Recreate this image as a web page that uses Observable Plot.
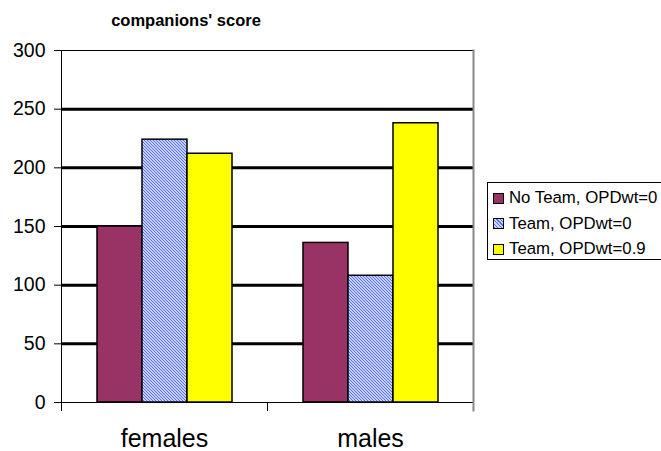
<!DOCTYPE html>
<html>
<head>
<meta charset="utf-8">
<script src="https://cdn.jsdelivr.net/npm/d3@7"></script>
<script src="https://cdn.jsdelivr.net/npm/@observablehq/plot@0.6"></script>
<style>
  html, body { margin: 0; padding: 0; background: #fff; }
  body { font-family: "Liberation Sans", Arial, sans-serif; color: #000; }
  #wrap { position: relative; width: 661px; height: 451px; overflow: hidden; }
  #title { position: absolute; left: 0; width: 372px; top: 11px; text-align: center;
           font-weight: bold; font-size: 16.5px; }
  #legend { position: absolute; left: 487px; top: 182px; width: 176px; height: 78px;
            border: 1px solid #000; box-sizing: border-box; font-size: 16.8px; }
  .row { position: absolute; left: 5px; height: 20px; display: flex; align-items: center; white-space: nowrap; }
  .sw { width: 9px; height: 9px; border: 1px solid #000; margin-right: 5px; }
  #chart { position: absolute; left: 0; top: 0; }
</style>
</head>
<body>
<svg width="0" height="0" style="position:absolute">
  <defs>
    <pattern id="hatch" patternUnits="userSpaceOnUse" width="3" height="3">
      <rect width="3" height="3" fill="#c9d3ff"></rect>
      <path d="M-1,-1 L4,4 M-1,2 L1,4 M2,-1 L4,1" stroke="#4f6cff" stroke-width="1"></path>
    </pattern>
  </defs>
</svg>
<div id="wrap">
  <div id="chart"></div>
  <div id="title">companions' score</div>
  <div id="legend"></div>
</div>
<script>
const groups = ["females", "males"];
const series = ["No Team, OPDwt=0", "Team, OPDwt=0", "Team, OPDwt=0.9"];
const femalesValues = [150, 224, 212];
const malesValues = [136, 108, 238];
const yTicks = [0, 50, 100, 150, 200, 250, 300];
const gridValues = [50, 100, 150, 200, 250];
const seriesColors = ["#993366", "url(#hatch)", "#ffff00"];

const table = [];
series.forEach((s, i) => {
  table.push({group: groups[0], series: s, value: femalesValues[i]});
  table.push({group: groups[1], series: s, value: malesValues[i]});
});

const H = 451, MT = 50, MB = 49;
const plot = Plot.plot({
  width: 661,
  height: H,
  marginTop: MT,
  marginBottom: MB,
  marginLeft: 60,
  marginRight: 188,
  style: {fontFamily: "'Liberation Sans', Arial, sans-serif", fontSize: "19px", color: "#000", background: "transparent"},
  fx: {domain: groups, padding: 0, label: null},
  x: {domain: series, paddingInner: 0, paddingOuter: 0.75, axis: null},
  y: {domain: [0, 300], label: null},
  color: {domain: series, range: seriesColors},
  marks: [
    Plot.ruleY(gridValues, {stroke: "#000", strokeWidth: 3}),
    Plot.barY(table, {fx: "group", x: "series", y: "value", fill: "series", stroke: "#000", strokeWidth: 1.5}),
    Plot.frame({facet: "super", anchor: "top", stroke: "#000", strokeWidth: 1}),
    Plot.frame({facet: "super", anchor: "left", stroke: "#000", strokeWidth: 1}),
    Plot.frame({facet: "super", anchor: "bottom", stroke: "#000", strokeWidth: 1, insetLeft: -7}),
    Plot.frame({anchor: "left", stroke: "#000", strokeWidth: 1, insetTop: H - MT - MB, insetBottom: -8}),
    Plot.frame({facet: "super", anchor: "right", stroke: "#888", strokeWidth: 2, insetBottom: -8}),
    Plot.axisY({ticks: yTicks, tickSize: 7, tickPadding: 9, fontSize: 19.5, label: null, tickFormat: d => String(d)}),
    Plot.axisFx({anchor: "bottom", tickSize: 0, tickPadding: 27, fontSize: 25, label: null})
  ]
});
document.getElementById("chart").appendChild(plot);

const legend = document.getElementById("legend");
series.forEach((s, i) => {
  const row = document.createElement("div");
  row.className = "row";
  row.style.top = (5 + i * 25.5) + "px";
  const sw = document.createElement("div");
  sw.className = "sw";
  sw.style.background = seriesColors[i].startsWith("url")
    ? "repeating-linear-gradient(45deg, #4f6cff 0 1px, #c9d3ff 1px 2.5px)"
    : seriesColors[i];
  const t = document.createElement("span");
  t.textContent = s;
  row.appendChild(sw);
  row.appendChild(t);
  legend.appendChild(row);
});
</script>
</body>
</html>
